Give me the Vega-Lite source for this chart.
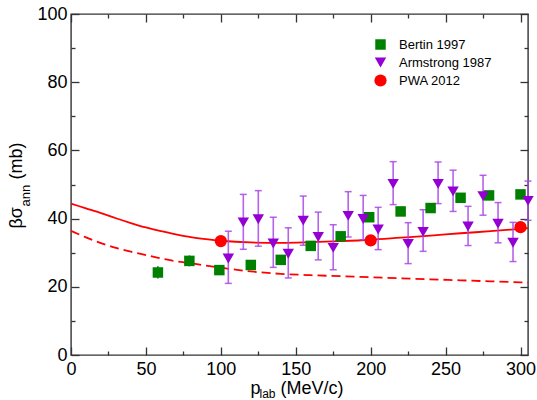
{
  "$schema": "https://vega.github.io/schema/vega-lite/v6.json",
  "width": 457,
  "height": 341,
  "autosize": {"type": "none"},
  "padding": {"left": 71, "top": 14, "right": 9, "bottom": 45},
  "background": "white",
  "config": {
    "view": {"stroke": "#333", "strokeWidth": 1.4},
    "font": "Liberation Sans",
    "axis": {
      "grid": false, "domain": false,
      "labelFont": "Liberation Sans", "labelFontSize": 18, "labelColor": "#000",
      "titleFont": "Liberation Sans", "titleFontSize": 18, "titleColor": "#000", "titleFontWeight": "normal",
      "tickColor": "#333", "tickWidth": 1.3
    }
  },
  "datasets": {
    "dashed": [
      {"x": 0, "y": 36.4}, {"x": 10, "y": 34.5}, {"x": 20, "y": 32.8}, {"x": 30, "y": 31.4}, {"x": 40, "y": 30.3},
      {"x": 50, "y": 29.3}, {"x": 60, "y": 28.3}, {"x": 70, "y": 27.5}, {"x": 80, "y": 26.9}, {"x": 90, "y": 26.2},
      {"x": 100, "y": 25.6}, {"x": 120, "y": 24.5}, {"x": 140, "y": 23.8}, {"x": 160, "y": 23.4}, {"x": 180, "y": 23.1},
      {"x": 200, "y": 22.8}, {"x": 220, "y": 22.5}, {"x": 240, "y": 22.2}, {"x": 260, "y": 21.9}, {"x": 280, "y": 21.6},
      {"x": 300, "y": 21.3}, {"x": 305, "y": 21.2}
    ],
    "solid": [
      {"x": 0, "y": 44.4}, {"x": 10, "y": 43.0}, {"x": 20, "y": 41.6}, {"x": 30, "y": 40.1}, {"x": 40, "y": 38.7},
      {"x": 50, "y": 37.4}, {"x": 60, "y": 36.3}, {"x": 70, "y": 35.4}, {"x": 80, "y": 34.6}, {"x": 90, "y": 34.0},
      {"x": 100, "y": 33.5}, {"x": 120, "y": 33.0}, {"x": 140, "y": 32.9}, {"x": 160, "y": 33.1}, {"x": 180, "y": 33.4},
      {"x": 200, "y": 33.8}, {"x": 220, "y": 34.4}, {"x": 240, "y": 35.0}, {"x": 260, "y": 35.7}, {"x": 280, "y": 36.3},
      {"x": 300, "y": 37.0}, {"x": 305, "y": 37.2}
    ],
    "aerr": [
      {"x": 105, "lo": 21.0, "hi": 36.3}, {"x": 115, "lo": 31.0, "hi": 47.1}, {"x": 125, "lo": 31.9, "hi": 48.2},
      {"x": 135, "lo": 25.7, "hi": 40.4}, {"x": 145, "lo": 22.6, "hi": 37.3}, {"x": 155, "lo": 32.2, "hi": 46.6},
      {"x": 165, "lo": 27.9, "hi": 41.9}, {"x": 175, "lo": 25.0, "hi": 38.2}, {"x": 185, "lo": 34.6, "hi": 47.9},
      {"x": 195, "lo": 33.8, "hi": 46.8}, {"x": 205, "lo": 30.9, "hi": 43.3}, {"x": 215, "lo": 44.1, "hi": 56.7},
      {"x": 225, "lo": 26.8, "hi": 38.8}, {"x": 235, "lo": 30.4, "hi": 42.6}, {"x": 245, "lo": 44.4, "hi": 56.6},
      {"x": 255, "lo": 42.1, "hi": 54.2}, {"x": 265, "lo": 32.1, "hi": 43.6}, {"x": 275, "lo": 41.0, "hi": 52.7},
      {"x": 285, "lo": 32.9, "hi": 44.7}, {"x": 295, "lo": 27.4, "hi": 38.9}, {"x": 305, "lo": 39.5, "hi": 51.0}
    ],
    "berr": [
      {"x": 58, "lo": 22.4, "hi": 26.0}, {"x": 79, "lo": 26.0, "hi": 29.2}
    ],
    "points": [
      {"series": "Bertin 1997", "x": 58, "y": 24.2}, {"series": "Bertin 1997", "x": 79, "y": 27.6},
      {"series": "Bertin 1997", "x": 99, "y": 24.9}, {"series": "Bertin 1997", "x": 120, "y": 26.4},
      {"series": "Bertin 1997", "x": 140, "y": 27.9}, {"series": "Bertin 1997", "x": 160, "y": 32.0},
      {"series": "Bertin 1997", "x": 180, "y": 34.8}, {"series": "Bertin 1997", "x": 199, "y": 40.4},
      {"series": "Bertin 1997", "x": 220, "y": 42.1}, {"series": "Bertin 1997", "x": 240, "y": 43.1},
      {"series": "Bertin 1997", "x": 260, "y": 46.1}, {"series": "Bertin 1997", "x": 279, "y": 46.8},
      {"series": "Bertin 1997", "x": 300, "y": 47.1},
      {"series": "Armstrong 1987", "x": 105, "y": 28.3}, {"series": "Armstrong 1987", "x": 115, "y": 38.9},
      {"series": "Armstrong 1987", "x": 125, "y": 39.8}, {"series": "Armstrong 1987", "x": 135, "y": 32.7},
      {"series": "Armstrong 1987", "x": 145, "y": 29.7}, {"series": "Armstrong 1987", "x": 155, "y": 39.4},
      {"series": "Armstrong 1987", "x": 165, "y": 34.6}, {"series": "Armstrong 1987", "x": 175, "y": 31.4},
      {"series": "Armstrong 1987", "x": 185, "y": 40.8}, {"series": "Armstrong 1987", "x": 195, "y": 39.9},
      {"series": "Armstrong 1987", "x": 205, "y": 36.8}, {"series": "Armstrong 1987", "x": 215, "y": 50.2},
      {"series": "Armstrong 1987", "x": 225, "y": 32.6}, {"series": "Armstrong 1987", "x": 235, "y": 36.1},
      {"series": "Armstrong 1987", "x": 245, "y": 50.2}, {"series": "Armstrong 1987", "x": 255, "y": 48.0},
      {"series": "Armstrong 1987", "x": 265, "y": 37.7}, {"series": "Armstrong 1987", "x": 275, "y": 46.6},
      {"series": "Armstrong 1987", "x": 285, "y": 38.5}, {"series": "Armstrong 1987", "x": 295, "y": 32.9},
      {"series": "Armstrong 1987", "x": 305, "y": 45.2},
      {"series": "PWA 2012", "x": 100, "y": 33.4}, {"series": "PWA 2012", "x": 200, "y": 33.6},
      {"series": "PWA 2012", "x": 300, "y": 37.5}
    ]
  },
  "resolve": {"axis": {"x": "independent", "y": "independent"}},
  "layer": [
    {
      "data": {"name": "dashed"},
      "mark": {"type": "line", "color": "#ff0000", "strokeWidth": 1.8, "strokeDash": [9, 5], "interpolate": "monotone"},
      "encoding": {
        "x": {"field": "x", "type": "quantitative", "scale": {"domain": [0, 305], "nice": false, "zero": false},
          "axis": {"orient": "bottom", "values": [0, 50, 100, 150, 200, 250, 300], "ticks": false, "tickSize": 0, "labelPadding": 5, "labelFlush": false,
            "title": "p", "titleX": 179, "titleY": 38, "titleAlign": "left", "titleBaseline": "alphabetic", "titleAnchor": null}},
        "y": {"field": "y", "type": "quantitative", "scale": {"domain": [0, 100], "nice": false, "zero": false},
          "axis": {"orient": "left", "values": [0, 20, 40, 60, 80, 100], "ticks": false, "tickSize": 0, "labelPadding": 4, "labelFlush": false,
            "title": "βσ", "titleX": -50, "titleY": 214, "titleAngle": 270, "titleAlign": "left", "titleBaseline": "alphabetic"}}
      }
    },
    {
      "data": {"name": "solid"},
      "mark": {"type": "line", "color": "#ff0000", "strokeWidth": 1.8, "interpolate": "monotone"},
      "encoding": {
        "x": {"field": "x", "type": "quantitative", "scale": {"domain": [0, 305], "nice": false, "zero": false},
          "axis": {"orient": "bottom", "values": [0, 50, 100, 150, 200, 250, 300], "tickSize": -8, "labels": false,
            "title": "lab", "titleFontSize": 12, "titleX": 188, "titleY": 42.5, "titleAlign": "left", "titleBaseline": "alphabetic"}},
        "y": {"field": "y", "type": "quantitative", "scale": {"domain": [0, 100], "nice": false, "zero": false},
          "axis": {"orient": "left", "values": [0, 20, 40, 60, 80, 100], "tickSize": -8, "labels": false,
            "title": "ann", "titleFontSize": 13, "titleX": -41.5, "titleY": 192, "titleAngle": 270, "titleAlign": "left", "titleBaseline": "alphabetic"}}
      }
    },
    {
      "data": {"name": "aerr"},
      "mark": {"type": "rule", "color": "#a848e8", "strokeWidth": 1.6, "opacity": 0.85},
      "encoding": {
        "x": {"field": "x", "type": "quantitative", "scale": {"domain": [0, 305], "nice": false, "zero": false},
          "axis": {"orient": "bottom", "values": [25, 75, 125, 175, 225, 275], "tickSize": -4, "labels": false,
            "title": "(MeV/c)", "titleX": 209, "titleY": 38, "titleAlign": "left", "titleBaseline": "alphabetic"}},
        "y": {"field": "lo", "type": "quantitative", "scale": {"domain": [0, 100], "nice": false, "zero": false},
          "axis": {"orient": "left", "values": [10, 30, 50, 70, 90], "tickSize": -4, "labels": false,
            "title": "(mb)", "titleX": -50, "titleY": 165, "titleAngle": 270, "titleAlign": "left", "titleBaseline": "alphabetic"}},
        "y2": {"field": "hi"}
      }
    },
    {
      "data": {"name": "aerr"},
      "mark": {"type": "tick", "orient": "horizontal", "color": "#a848e8", "size": 7, "thickness": 1.5, "opacity": 0.85},
      "encoding": {
        "x": {"field": "x", "type": "quantitative", "scale": {"domain": [0, 305], "nice": false, "zero": false},
          "axis": {"orient": "top", "values": [0, 50, 100, 150, 200, 250, 300], "tickSize": -8, "labels": false, "title": null}},
        "y": {"field": "lo", "type": "quantitative", "scale": {"domain": [0, 100], "nice": false, "zero": false},
          "axis": {"orient": "right", "values": [0, 20, 40, 60, 80, 100], "tickSize": -8, "labels": false, "title": null}}
      }
    },
    {
      "data": {"name": "aerr"},
      "mark": {"type": "tick", "orient": "horizontal", "color": "#a848e8", "size": 7, "thickness": 1.5, "opacity": 0.85},
      "encoding": {
        "x": {"field": "x", "type": "quantitative", "scale": {"domain": [0, 305], "nice": false, "zero": false},
          "axis": {"orient": "top", "values": [25, 75, 125, 175, 225, 275], "tickSize": -4, "labels": false, "title": null}},
        "y": {"field": "hi", "type": "quantitative", "scale": {"domain": [0, 100], "nice": false, "zero": false},
          "axis": {"orient": "right", "values": [10, 30, 50, 70, 90], "tickSize": -4, "labels": false, "title": null}}
      }
    },
    {
      "data": {"name": "berr"},
      "mark": {"type": "rule", "color": "#008000", "strokeWidth": 1.6},
      "encoding": {
        "x": {"field": "x", "type": "quantitative", "scale": {"domain": [0, 305], "nice": false, "zero": false}, "axis": null},
        "y": {"field": "lo", "type": "quantitative", "scale": {"domain": [0, 100], "nice": false, "zero": false}, "axis": null},
        "y2": {"field": "hi"}
      }
    },
    {
      "data": {"name": "points"},
      "mark": {"type": "point", "filled": true, "opacity": 1},
      "encoding": {
        "x": {"field": "x", "type": "quantitative", "scale": {"domain": [0, 305], "nice": false, "zero": false}, "axis": null},
        "y": {"field": "y", "type": "quantitative", "scale": {"domain": [0, 100], "nice": false, "zero": false}, "axis": null},
        "color": {"field": "series", "type": "nominal",
          "scale": {"domain": ["Bertin 1997", "Armstrong 1987", "PWA 2012"], "range": ["#008000", "#9400d3", "#ff0000"]},
          "legend": {"orient": "none", "legendX": 303, "legendY": 24, "title": null, "padding": 0,
            "labelFont": "Liberation Sans", "labelFontSize": 13, "labelColor": "#000", "labelOffset": 12,
            "symbolSize": 110, "rowPadding": 4, "symbolStrokeWidth": 0}},
        "shape": {"field": "series", "type": "nominal",
          "scale": {"domain": ["Bertin 1997", "Armstrong 1987", "PWA 2012"], "range": ["square", "triangle-down", "circle"]}},
        "size": {"field": "series", "type": "nominal",
          "scale": {"domain": ["Bertin 1997", "Armstrong 1987", "PWA 2012"], "range": [110, 150, 160]}, "legend": null},
        "order": {"field": "series", "sort": "descending"}
      }
    }
  ]
}
